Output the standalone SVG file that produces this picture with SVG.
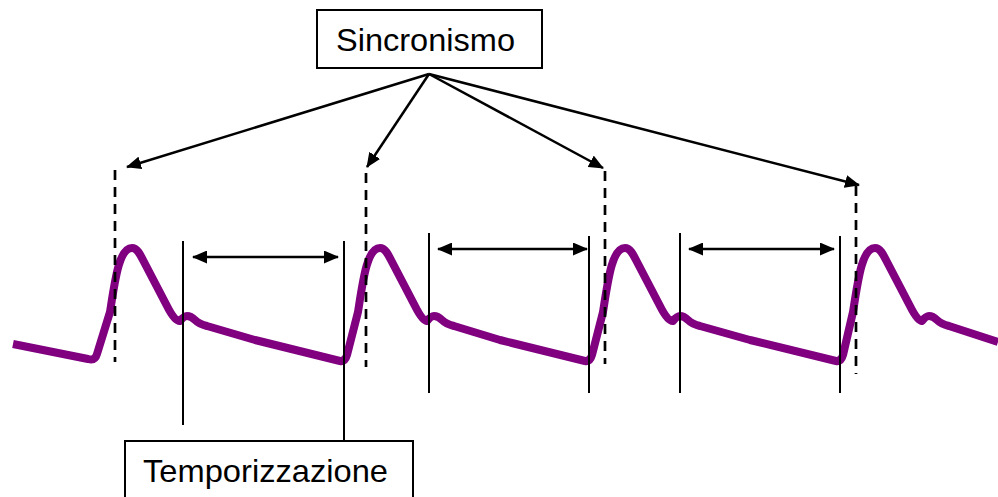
<svg xmlns="http://www.w3.org/2000/svg" width="998" height="497" viewBox="0 0 998 497">
<style>
.box{fill:#fff;stroke:#000;stroke-width:2}
.lbl{font-family:"Liberation Sans",Arial,sans-serif;font-size:32px;fill:#000}
.arr{stroke:#000;stroke-width:2.5;fill:none}
.dash{stroke:#000;stroke-width:2.7;stroke-dasharray:10 7;fill:none}
.vl{stroke:#000;stroke-width:2;fill:none}
.wave{stroke:#800080;stroke-width:8;fill:none;stroke-linejoin:round;stroke-linecap:butt}
</style>
<defs>
<marker id="ah" viewBox="0 0 15 13" refX="14" refY="6.5" markerWidth="15" markerHeight="13" markerUnits="userSpaceOnUse" orient="auto-start-reverse">
<path d="M0,0 L15,6.5 L0,13 Z" fill="#000"/>
</marker>
</defs>
<g id="waveform">
<path class="wave" d="M13,344 L88,359 Q95,361 97,354 L110,312 C115,280 119,248 132,248 C137,248 140,254 143,260 L167,306 Q175,322 180,321 Q184,316 187,316 Q191,316 195,320 Q199,324 207,326 L255,340 L340,361 Q345,362 347,355 L358,312 C363,280 367,248 380,248 C385,248 388,254 391,260 L415,306 Q423,322 427,321 Q431,316 434,316 Q438,316 442,320 Q446,324 454,326 L500,340 L512,343 L585,361 Q590,362 592,355 L603,312 C608,280 612,248 625,248 C630,248 633,254 636,260 L660,306 Q668,322 673,321 Q677,316 680,316 Q684,316 688,320 Q692,324 700,326 L750,340 L836,361 Q841,362 843,355 L853,312 C858,280 862,248 875,248 C880,248 883,254 886,260 L910,306 Q918,322 922,321 Q926,316 929,316 Q933,316 937,320 Q941,324 949,326 L998,342"/>
</g>
<g id="connectors">
<line class="dash" x1="115" y1="170" x2="115" y2="362"/>
<line class="dash" x1="366" y1="173" x2="366" y2="367"/>
<line class="dash" x1="605" y1="171" x2="605" y2="364"/>
<line class="dash" x1="856" y1="186" x2="856" y2="374"/>
<line class="vl" x1="183" y1="241" x2="183" y2="425"/>
<line class="vl" x1="344" y1="241" x2="344" y2="441"/>
<line class="vl" x1="429" y1="233" x2="429" y2="393"/>
<line class="vl" x1="589" y1="236" x2="589" y2="393"/>
<line class="vl" x1="680" y1="233" x2="680" y2="393"/>
<line class="vl" x1="840" y1="236" x2="840" y2="393"/>
<line class="arr" x1="429" y1="74" x2="127" y2="167" marker-end="url(#ah)"/>
<line class="arr" x1="429" y1="74" x2="367" y2="167" marker-end="url(#ah)"/>
<line class="arr" x1="429" y1="74" x2="603" y2="168" marker-end="url(#ah)"/>
<line class="arr" x1="429" y1="74" x2="859" y2="185" marker-end="url(#ah)"/>
<line class="arr" x1="193" y1="257" x2="338" y2="257" marker-start="url(#ah)" marker-end="url(#ah)"/>
<line class="arr" x1="438" y1="249" x2="587" y2="249" marker-start="url(#ah)" marker-end="url(#ah)"/>
<line class="arr" x1="689" y1="249" x2="834" y2="249" marker-start="url(#ah)" marker-end="url(#ah)"/>
</g>
<g id="sincronismo">
<rect class="box" x="317" y="10" width="225" height="58"/>
<text class="lbl" x="336" y="51" textLength="179" lengthAdjust="spacingAndGlyphs">Sincronismo</text>
</g>
<g id="temporizzazione">
<rect class="box" x="125" y="441" width="288" height="70"/>
<text class="lbl" x="143" y="482" textLength="245" lengthAdjust="spacingAndGlyphs">Temporizzazione</text>
</g>
</svg>
